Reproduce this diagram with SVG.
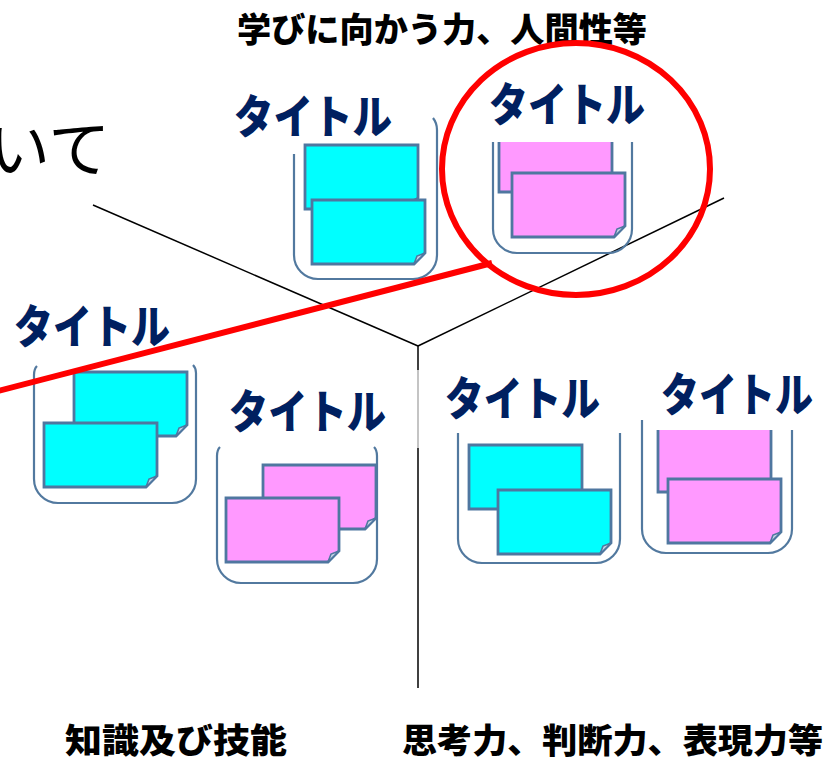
<svg xmlns="http://www.w3.org/2000/svg" width="827" height="762" viewBox="0 0 827 762">
<style>
.axis{stroke:#000;stroke-width:1.5;fill:none}
.box{fill:none;stroke:#52799F;stroke-width:2.2}
.card{stroke:#4F77A0;stroke-width:2.8;stroke-linejoin:miter}
.cy{fill:#00FFFF}
.pk{fill:#FF99FF}
.curl{fill:#C9D6E6;stroke:#4F77A0;stroke-width:1.6}
.title{font-family:"Noto Sans CJK JP","Noto Sans",sans-serif;font-weight:900;font-size:46px;fill:#002060}
.lab{font-family:"Noto Sans CJK JP","Noto Sans",sans-serif;font-weight:900;fill:#000}
.red{stroke:#FF0000;stroke-width:6;fill:none}
</style>
<defs>
<g id="cardC"><path class="card cy" d="M0,0 H113 V53 L102,64 H0 Z"/><path class="curl" d="M102,64 L105,56 L113,53 Z"/></g>
<g id="cardP"><path class="card pk" d="M0,0 H113 V53 L102,64 H0 Z"/><path class="curl" d="M102,64 L105,56 L113,53 Z"/></g>
<clipPath id="clipB"><rect x="480" y="142" width="160" height="120"/></clipPath>
<clipPath id="clipF"><rect x="640" y="430" width="160" height="130"/></clipPath>
</defs>
<rect width="827" height="762" fill="#fff"/>
<text x="-12" y="172" font-family="'Noto Sans CJK JP',sans-serif" font-size="62" font-weight="400" fill="#000">いて</text>
<g id="connectors">
<line class="axis" x1="93" y1="205" x2="418" y2="346"/>
<line class="axis" x1="418" y1="346" x2="724" y2="198"/>
<line class="axis" x1="418" y1="346" x2="418" y2="370"/>
<line x1="418" y1="370" x2="418" y2="448" stroke="#B0B0B0" stroke-width="1.5"/>
<line class="axis" x1="418" y1="448" x2="418" y2="688"/>
</g>
<g id="label-top"><text class="lab" x="442" y="42" font-size="34" text-anchor="middle" textLength="410" lengthAdjust="spacingAndGlyphs">学びに向かう力、人間性等</text></g>
<g id="label-left"><text class="lab" x="65" y="753" font-size="34" textLength="222" lengthAdjust="spacingAndGlyphs">知識及び技能</text></g>
<g id="label-right"><text class="lab" x="402" y="753" font-size="34" textLength="421" lengthAdjust="spacingAndGlyphs">思考力、判断力、表現力等</text></g>
<g id="nodeA">
<path class="box" d="M294,154 V255 A24,24 0 0 0 318,279 H413 A24,24 0 0 0 437,255 V130 Q437,123 433,118"/>
<use href="#cardC" x="305" y="145"/>
<use href="#cardC" x="312" y="200"/>
<text class="title" x="234" y="133" textLength="158" lengthAdjust="spacingAndGlyphs">タイトル</text>
</g>
<g id="nodeB">
<path class="box" d="M493,142 V229 A24,24 0 0 0 517,253 H608 A24,24 0 0 0 632,229 V142"/>
<g clip-path="url(#clipB)"><use href="#cardP" x="499" y="128"/></g>
<use href="#cardP" x="512" y="173"/>
<text class="title" x="489" y="121" textLength="156" lengthAdjust="spacingAndGlyphs">タイトル</text>
</g>
<g id="nodeC">
<path class="box" d="M37,366 Q34,369 34,375 V479 A24,24 0 0 0 58,503 H172 A24,24 0 0 0 196,479 V373 Q196,368 193,365"/>
<use href="#cardC" x="74" y="372"/>
<use href="#cardC" x="44" y="423"/>
<text class="title" x="14" y="343" textLength="156" lengthAdjust="spacingAndGlyphs">タイトル</text>
</g>
<g id="nodeD">
<path class="box" d="M220,447 Q217,450 217,456 V559 A24,24 0 0 0 241,583 H353 A24,24 0 0 0 377,559 V456 Q377,450 374,447"/>
<use href="#cardP" x="263" y="465"/>
<use href="#cardP" x="226" y="498"/>
<text class="title" x="229" y="428" textLength="157" lengthAdjust="spacingAndGlyphs">タイトル</text>
</g>
<g id="nodeE">
<path class="box" d="M458,433 V539 A24,24 0 0 0 482,563 H596 A24,24 0 0 0 620,539 V433"/>
<use href="#cardC" x="469" y="445"/>
<use href="#cardC" x="498" y="490"/>
<text class="title" x="445" y="415" textLength="155" lengthAdjust="spacingAndGlyphs">タイトル</text>
</g>
<g id="nodeF">
<path class="box" d="M642,420 V529 A24,24 0 0 0 666,553 H768 A24,24 0 0 0 792,529 V430"/>
<g clip-path="url(#clipF)"><use href="#cardP" x="658" y="428"/></g>
<use href="#cardP" x="668" y="479"/>
<text class="title" x="661" y="411" textLength="152" lengthAdjust="spacingAndGlyphs">タイトル</text>
</g>
<g id="annotation">
<ellipse class="red" cx="576" cy="169" rx="134" ry="126"/>
<line class="red" x1="-2" y1="391" x2="492" y2="263"/>
</g>
</svg>
